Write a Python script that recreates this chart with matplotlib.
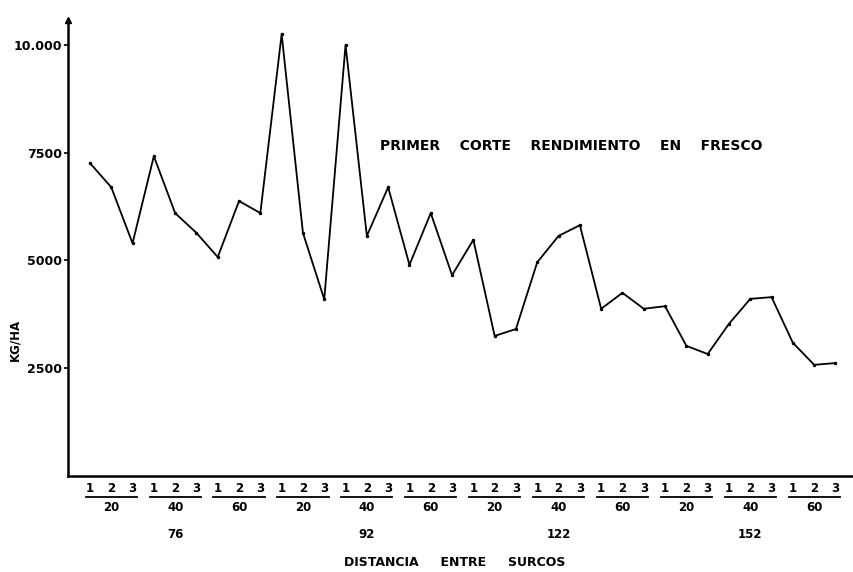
import matplotlib
matplotlib.use('Agg')
import matplotlib.pyplot as plt
import numpy as np

# Yield (kg/ha), 36 observations: 4 distances x 3 densities x 3 replicates
values = [7260, 6700, 5400, 7420, 6100, 5640, 5080, 6380, 6100,
          10250, 5640, 4100, 10000, 5570, 6700, 4900, 6100, 4660,
          5480, 3250, 3410, 4960, 5570, 5820, 3880, 4250, 3880,
          3940, 3020, 2830, 3530, 4110, 4150, 3090, 2580, 2620]
reps = ['1', '2', '3']
densities = ['20', '40', '60']
distances = ['76', '92', '122', '152']
yticks = [2500, 5000, 7500, 10000]
ytick_labels = ['2500', '5000', '7500', '10.000']
title = 'PRIMER    CORTE    RENDIMIENTO    EN    FRESCO'
ylabel = 'KG/HA'
xlabel = 'DISTANCIA     ENTRE     SURCOS'

fig = plt.figure(figsize=(8.54, 5.72), dpi=100)
ax = fig.add_axes([68/854, (572-476)/572, (854-68)/854, (476-20)/572])

x = np.arange(1, len(values) + 1)
ax.plot(x, values, color='black', lw=1.3, marker='o', ms=1.5, mfc='black', mec='black')

ax.set_xlim(-0.03, 36.87)
ax.set_ylim(0, 10580)

for s in ['top', 'right']:
    ax.spines[s].set_visible(False)
for s in ['left', 'bottom']:
    ax.spines[s].set_linewidth(1.8)
    ax.spines[s].set_color('black')

ax.plot([0], [1], marker='^', ms=5, color='black', transform=ax.transAxes, clip_on=False)

ax.set_yticks(yticks)
ax.set_yticklabels(ytick_labels, fontsize=9, fontweight='bold')
ax.tick_params(axis='y', direction='out', length=3, width=1.2, pad=1)
ax.set_xticks([])

fp = dict(fontweight='bold', fontsize=8.5, color='black')
trans = ax.get_xaxis_transform()
ng = len(distances) * len(densities)
for g in range(ng):
    xs = x[3*g:3*g+3]
    for xi, r in zip(xs, reps):
        ax.text(xi, -0.027, r, transform=trans, ha='center', va='center', clip_on=False, **fp)
    ax.plot([xs[0]-0.2, xs[-1]+0.2], [-0.046, -0.046], transform=trans,
            color='black', lw=1.3, clip_on=False)
    ax.text(xs[1], -0.068, densities[g % 3], transform=trans, ha='center', va='center',
            clip_on=False, **fp)
for d, dist in enumerate(distances):
    xc = x[9*d + 4]
    ax.text(xc, -0.129, dist, transform=trans, ha='center', va='center', clip_on=False, **fp)

fig.text(455/854, 1 - 563/572, xlabel, ha='center', va='center',
         fontweight='bold', fontsize=9, color='black')
fig.text(15/854, 1 - 340/572, ylabel, ha='center', va='center', rotation=90, **fp)
fig.text(571/854, 1 - 146/572, title, ha='center', va='center',
         fontweight='bold', fontsize=10, color='black')

fig.savefig('out.png', dpi=100)
